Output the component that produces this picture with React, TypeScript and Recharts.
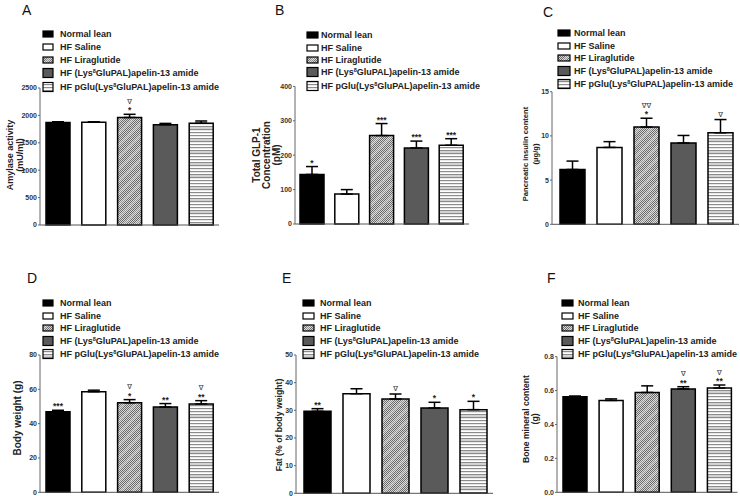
import React from "react";
import { BarChart, Bar, XAxis, YAxis, Cell, ErrorBar, LabelList } from "recharts";

const groups = [
  "Normal lean",
  "HF Saline",
  "HF Liraglutide",
  "HF (Lys8GluPAL)apelin-13 amide",
  "HF pGlu(Lys8GluPAL)apelin-13 amide",
];

// A - amylase
const amylaseMean = [1870, 1876, 1962, 1830, 1858];
const amylaseSem = [14, 6, 58, 24, 40];
const amylaseStars = ["", "", "*", "", ""];
const amylaseNabla = ["", "", "∇", "", ""];
const amylaseTicks = [0, 500, 1000, 1500, 2000, 2500];

// B - GLP-1
const glpMean = [144, 87, 257, 221, 229];
const glpSem = [23, 13, 35, 20, 19];
const glpStars = ["*", "", "***", "***", "***"];
const glpNabla = ["", "", "", "", ""];
const glpTicks = [0, 100, 200, 300, 400];

// C - pancreatic insulin
const insulinMean = [6.2, 8.7, 11.0, 9.2, 10.35];
const insulinSem = [0.95, 0.65, 1.0, 0.85, 1.5];
const insulinStars = ["", "", "*", "", ""];
const insulinNabla = ["", "", "∇∇", "", "∇"];
const insulinTicks = [0, 5, 10, 15];

// D - body weight
const weightMean = [47.0, 58.6, 52.2, 49.7, 51.5];
const weightSem = [0.8, 0.9, 1.8, 2.0, 1.9];
const weightStars = ["***", "", "*", "**", "**"];
const weightNabla = ["", "", "∇", "", "∇"];
const weightTicks = [0, 20, 40, 60, 80];

// E - fat
const fatMean = [29.65, 36.0, 34.1, 30.85, 30.25];
const fatSem = [0.95, 1.8, 1.8, 2.05, 3.0];
const fatStars = ["**", "", "", "*", "*"];
const fatNabla = ["", "", "∇", "", ""];
const fatTicks = [0, 10, 20, 30, 40, 50];

// F - bone mineral content
const boneMean = [0.564, 0.542, 0.589, 0.61, 0.615];
const boneSem = [0.004, 0.009, 0.039, 0.013, 0.018];
const boneStars = ["", "", "", "**", "**"];
const boneNabla = ["", "", "", "∇", "∇"];
const boneTicks = [0, 0.2, 0.4, 0.6, 0.8];

const FONT = '"Liberation Sans", Arial, sans-serif';
const fills = ["#000000", "#ffffff", "url(#pat-lira)", "#5a5a5a", "url(#pat-hstripe)"];

type Panel = {
  key: string;
  mean: number[];
  sem: number[];
  stars: string[];
  nabla: string[];
  ticks: number[];
  decimals: number;
  left: number;
  right: number;
  top: number;
  bottom: number;
  padL: number;
  barSize: number;
  yLines: string[];
  yLineX: number[];
  yMid: number;
  yFont: number;
  letterX: number;
  letterBase: number;
  swX: number;
  swW: number;
  txX: number;
  rows: number[];
};

const panels: Panel[] = [
  {
    key: "A", mean: amylaseMean, sem: amylaseSem, stars: amylaseStars, nabla: amylaseNabla, ticks: amylaseTicks, decimals: 0,
    left: 40, right: 219, top: 88, bottom: 225, padL: 0, barSize: 24,
    yLines: ["Amylase activity", "(mU/ml)"], yLineX: [10, 20], yMid: 155, yFont: 9,
    letterX: 22, letterBase: 15, swX: 43, swW: 10, txX: 60, rows: [34, 47, 60, 73, 87],
  },
  {
    key: "B", mean: glpMean, sem: glpSem, stars: glpStars, nabla: glpNabla, ticks: glpTicks, decimals: 0,
    left: 295, right: 469, top: 86.4, bottom: 224, padL: 0, barSize: 24,
    yLines: ["Total GLP-1", "Concentration", "(pM)"], yLineX: [256.5, 266.5, 276], yMid: 155, yFont: 10,
    letterX: 275, letterBase: 15, swX: 307, swW: 11, txX: 321, rows: [35, 48, 60, 72, 86],
  },
  {
    key: "C", mean: insulinMean, sem: insulinSem, stars: insulinStars, nabla: insulinNabla, ticks: insulinTicks, decimals: 0,
    left: 552, right: 739, top: 91.7, bottom: 224.3, padL: 2, barSize: 25,
    yLines: ["Pancreatic insulin content", "(µg/g)"], yLineX: [525.5, 535], yMid: 154, yFont: 7.6,
    letterX: 543, letterBase: 17, swX: 558, swW: 12, txX: 574, rows: [33, 46, 58, 71, 84],
  },
  {
    key: "D", mean: weightMean, sem: weightSem, stars: weightStars, nabla: weightNabla, ticks: weightTicks, decimals: 0,
    left: 40, right: 219, top: 355, bottom: 492.3, padL: 0, barSize: 24,
    yLines: ["Body weight (g)"], yLineX: [17], yMid: 418, yFont: 10,
    letterX: 27, letterBase: 283, swX: 43, swW: 10, txX: 60, rows: [303, 316, 328, 341, 354],
  },
  {
    key: "E", mean: fatMean, sem: fatSem, stars: fatStars, nabla: fatNabla, ticks: fatTicks, decimals: 0,
    left: 296, right: 493, top: 355, bottom: 493.3, padL: 2, barSize: 27,
    yLines: ["Fat (% of body weight)"], yLineX: [279], yMid: 425, yFont: 8.7,
    letterX: 282, letterBase: 283, swX: 303, swW: 11, txX: 320, rows: [303, 316, 328, 341, 354],
  },
  {
    key: "F", mean: boneMean, sem: boneSem, stars: boneStars, nabla: boneNabla, ticks: boneTicks, decimals: 1,
    left: 557, right: 737.5, top: 356.7, bottom: 492.3, padL: 0, barSize: 24,
    yLines: ["Bone mineral content", "(g)"], yLineX: [525.5, 535], yMid: 419, yFont: 8.6,
    letterX: 547, letterBase: 283, swX: 562, swW: 11, txX: 578, rows: [303, 316, 328, 341, 354],
  },
];

const W = 740;
const H = 496;
const Y_AXIS_W = 30;

function PanelChart({ p }: { p: Panel }) {
  const data = groups.map((g, i) => ({ name: g, mean: p.mean[i], err: [0, p.sem[i]] }));
  const yMax = p.ticks[p.ticks.length - 1];

  const renderAnn = (props: any) => {
    const i = props.index;
    const x = Number(props.x);
    const y = Number(props.y);
    const w = Number(props.width);
    const h = Number(props.height);
    const v = p.mean[i];
    if (!v || !isFinite(h)) return null;
    const top = y - (p.sem[i] * h) / v;
    const cx = x + w / 2;
    const star = p.stars[i];
    const nab = p.nabla[i];
    return (
      <g>
        {star ? (
          <text x={cx} y={top - 1} textAnchor="middle" fontSize={8.5} fontWeight="bold" fontFamily={FONT} fill="#222">
            {star}
          </text>
        ) : null}
        {nab ? (
          <text x={cx} y={star ? top - 10.5 : top - 3} textAnchor="middle" fontSize={7} fontFamily='"DejaVu Sans", sans-serif' fill="#333">
            {nab}
          </text>
        ) : null}
      </g>
    );
  };

  return (
    <div style={{ position: "absolute", left: 0, top: 0 }}>
      <BarChart
        width={W}
        height={H}
        data={data}
        margin={{ left: p.left - Y_AXIS_W, right: W - p.right, top: p.top, bottom: H - p.bottom - 1 }}
      >
        <XAxis
          dataKey="name"
          tick={false}
          tickLine={false}
          height={1}
          axisLine={{ stroke: "#555", strokeWidth: 1 }}
          padding={{ left: p.padL, right: 0 }}
        />
        <YAxis
          width={Y_AXIS_W}
          domain={[0, yMax]}
          ticks={p.ticks}
          interval={0}
          tickSize={2}
          tickMargin={1}
          tickFormatter={(v: number) => v.toFixed(p.decimals)}
          tick={{ fontSize: 7, fontWeight: "bold", fill: "#333", fontFamily: FONT }}
          axisLine={{ stroke: "#666", strokeWidth: 1 }}
          tickLine={{ stroke: "#666" }}
        />
        <Bar dataKey="mean" barSize={p.barSize} stroke="#000" strokeWidth={1.5} isAnimationActive={false}>
          {data.map((d, i) => (
            <Cell key={d.name} fill={fills[i]} stroke="#000" />
          ))}
          <ErrorBar dataKey="err" width={6} stroke="#000" strokeWidth={1.5} direction="y" />
          <LabelList dataKey="mean" content={renderAnn} />
        </Bar>
      </BarChart>
    </div>
  );
}

function LegendText({ label, x, y }: { label: string; x: number; y: number }) {
  const parts = label.split("Lys8");
  if (parts.length === 1) {
    return (
      <text x={x} y={y} fontSize={9} fontWeight="bold" fontFamily={FONT} fill="#222">
        {label}
      </text>
    );
  }
  return (
    <text x={x} y={y} fontSize={9} fontWeight="bold" fontFamily={FONT} fill="#222">
      {parts[0] + "Lys"}
      <tspan fontSize={5.5} dy={-3.5}>8</tspan>
      <tspan dy={3.5}>{parts[1]}</tspan>
    </text>
  );
}

function Overlay() {
  return (
    <svg width={W} height={H} style={{ position: "absolute", left: 0, top: 0, pointerEvents: "none" }}>
      <defs>
        <pattern id="pat-check" patternUnits="userSpaceOnUse" width={2} height={2}>
          <rect width={2} height={2} fill="#d8d8d8" />
          <rect width={1} height={1} fill="#6a6a6a" />
          <rect x={1} y={1} width={1} height={1} fill="#6a6a6a" />
        </pattern>
        <pattern id="pat-lira" patternUnits="userSpaceOnUse" width={12} height={12}>
          <rect width={12} height={12} fill="url(#pat-check)" />
          <path d="M-3,3 L3,-3 M0,12 L12,0 M9,15 L15,9" stroke="#ececec" strokeOpacity={0.35} strokeWidth={2} />
        </pattern>
        <pattern id="pat-hstripe" patternUnits="userSpaceOnUse" width={4} height={12}>
          <rect width={4} height={12} fill="#ffffff" />
          <rect y={0} width={4} height={1.2} fill="#8c8c8c" />
          <rect y={3} width={4} height={1.2} fill="#8c8c8c" />
          <rect y={6} width={4} height={1.2} fill="#8c8c8c" />
          <rect y={9} width={4} height={1.2} fill="#8c8c8c" />
          <rect y={7.2} width={4} height={1.8} fill="#d0d0d0" />
        </pattern>
      </defs>
      {panels.map((p) => (
        <g key={p.key}>
          <text x={p.letterX} y={p.letterBase} fontSize={14} fontFamily={FONT} fill="#111">
            {p.key}
          </text>
          {p.yLines.map((line, li) => (
            <text
              key={line}
              transform={`translate(${p.yLineX[li] + p.yFont * 0.36}, ${p.yMid}) rotate(-90)`}
              textAnchor="middle"
              fontSize={p.yFont}
              fontWeight="bold"
              fontFamily={FONT}
              fill="#222"
            >
              {line}
            </text>
          ))}
          {groups.map((g, i) => {
            const sh = i < 3 ? 6 : 9;
            return (
              <g key={g}>
                <rect
                  x={p.swX}
                  y={p.rows[i] - sh / 2}
                  width={p.swW}
                  height={sh}
                  fill={fills[i]}
                  stroke="#000"
                  strokeWidth={1.2}
                />
                <LegendText label={g} x={p.txX} y={p.rows[i] + 3.2} />
              </g>
            );
          })}
        </g>
      ))}
    </svg>
  );
}

export default function App() {
  return (
    <div
      style={{
        position: "absolute",
        left: 0,
        top: 0,
        width: W,
        height: H,
        background: "#fff",
        overflow: "hidden",
        fontFamily: FONT,
      }}
    >
      {panels.map((p) => (
        <PanelChart key={p.key} p={p} />
      ))}
      <Overlay />
    </div>
  );
}
